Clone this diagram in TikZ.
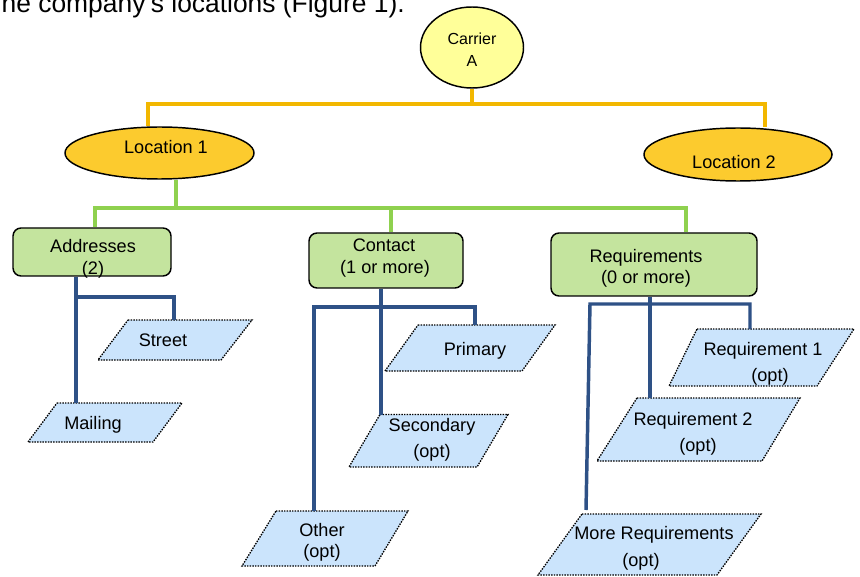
\documentclass[tikz,border=0pt]{standalone}
\usepackage{fontspec}
\setmainfont{Liberation Sans}
\usetikzlibrary{shapes.geometric}
\definecolor{oline}{HTML}{F2B700}
\definecolor{locfill}{HTML}{FCCB2E}
\definecolor{carfill}{HTML}{FFFF99}
\definecolor{gline}{HTML}{8FD14F}
\definecolor{gfill}{HTML}{C4E49E}
\definecolor{bline}{HTML}{2E5186}
\definecolor{pfill}{HTML}{CBE4FC}
\begin{document}
\begin{tikzpicture}[x=0.75pt,y=-0.75pt,
  txt/.style={inner sep=0pt, text height=0.72em, text depth=0pt, anchor=center, yshift=-1.7pt, font=\fontsize{13.6}{16}\selectfont},
  smalltxt/.style={txt, font=\fontsize{12}{14}\selectfont},
  ellbox/.style={ellipse, draw=black, line width=1.1pt, inner sep=0pt},
  greenbox/.style={rectangle, rounded corners=6pt, draw=black, line width=1.1pt, fill=gfill, inner sep=0pt},
  paraf/.style={fill=pfill, draw=black, line width=1pt, dash pattern=on 1.1pt off 0.9pt},
  orangeconn/.style={draw=oline, line width=3pt},
  greenconn/.style={draw=gline, line width=3pt},
  blueconn/.style={draw=bline, line width=2.6pt},
]
\clip (0,0) rectangle (860,577);
\fill[white] (0,0) rectangle (860,577);

% top text
\node[anchor=base east, inner sep=0pt, font=\fontsize{19.8}{22}\selectfont] (intro) at (405,12.5) {he company’s locations (Figure 1).};

% ellipses
\node[ellbox, fill=carfill, minimum width=103*0.75pt, minimum height=81*0.75pt] (carrier) at (472,47.5) {};
\node[smalltxt] (carrierT1) at (472,37) {Carrier};
\node[smalltxt] (carrierT2) at (472,59) {A};

\node[ellbox, fill=locfill, minimum width=189*0.75pt, minimum height=52*0.75pt] (loc1) at (159.5,153) {};
\node[txt] (loc1T) at (166,146) {Location 1};
\node[ellbox, fill=locfill, minimum width=188*0.75pt, minimum height=53*0.75pt] (loc2) at (738,154.5) {};
\node[txt] (loc2T) at (734,161) {Location 2};

% green boxes
\node[greenbox, minimum width=158*0.75pt, minimum height=48*0.75pt] (addr) at (92,252) {};
\node[txt] (addrT1) at (93,245) {Addresses};
\node[txt] (addrT2) at (93,267) {(2)};
\node[greenbox, minimum width=154*0.75pt, minimum height=55*0.75pt] (contact) at (386,260.5) {};
\node[txt] (contactT1) at (384,244) {Contact};
\node[txt] (contactT2) at (385,266) {(1 or more)};
\node[greenbox, minimum width=206*0.75pt, minimum height=63*0.75pt] (req) at (654,264.5) {};
\node[txt] (reqT1) at (646,255) {Requirements};
\node[txt] (reqT2) at (646,276) {(0 or more)};

% parallelograms
\path[paraf] (128,320) -- (252,320) -- (221,360) -- (98,360) -- cycle;
\node[txt] (street) at (163,339) {Street};
\path[paraf] (57,403) -- (182,403) -- (153,442) -- (28,442) -- cycle;
\node[txt] (mail) at (93,422) {Mailing};
\path[paraf] (276,511) -- (408,511) -- (375,566) -- (242,566) -- cycle;
\node[txt] (other1) at (322,529) {Other};
\node[txt] (other2) at (322,550) {(opt)};
\path[paraf] (418,325) -- (555,325) -- (522,371) -- (385,371) -- cycle;
\node[txt] (prim) at (475,348) {Primary};
\path[paraf] (380,414.5) -- (508,414.5) -- (477,467) -- (349,467) -- cycle;
\node[txt] (sec1) at (432,424) {Secondary};
\node[txt] (sec2) at (432,450) {(opt)};
\path[paraf] (697,329) -- (854,329) -- (817,386) -- (669,386) -- cycle;
\node[txt] (r1a) at (763,348) {Requirement 1};
\node[txt] (r1b) at (770,374) {(opt)};
\path[paraf] (637,398) -- (800,398) -- (762,461) -- (597,461) -- cycle;
\node[txt] (r2a) at (693,418) {Requirement 2};
\node[txt] (r2b) at (698,444) {(opt)};
\path[paraf] (582,514) -- (761,514) -- (717,575) -- (538,575) -- cycle;
\node[txt] (moreA) at (654,532) {More Requirements};
\node[txt] (moreB) at (641,559) {(opt)};

% connector ends
\coordinate (streetIn) at (174,320);
\coordinate (mailIn) at (76,403);
\coordinate (otherIn) at (314,511);
\coordinate (primIn) at (475,325);
\coordinate (secIn) at (381,414.5);
\coordinate (r1In) at (750,329);
\coordinate (r2In) at (650,398);
\coordinate (moreIn) at (586,510);

% orange connectors
\draw[orangeconn] (carrier.south) -- (carrier.south |- 0,104);
\draw[orangeconn] (loc1.north -| 148,0) -- (148,104) -- (765,104) -- (loc2.north -| 765,0);

% green connectors
\draw[greenconn] (loc1.south -| 176,0) -- (176,208);
\draw[greenconn] (addr.north -| 95,0) -- (95,208) -- (686,208) -- (req.north -| 686,0);
\draw[greenconn] (391,208) -- (contact.north -| 391,0);

% blue connectors
\draw[blueconn] (addr.south -| 76,0) -- (mailIn);
\draw[blueconn] (76,297) -- (174,297) -- (streetIn);
\draw[blueconn] (contact.south -| 381,0) -- (secIn);
\draw[blueconn] (otherIn) -- (314,307) -- (475,307) -- (primIn);
\draw[blueconn] (req.south -| 650,0) -- (r2In);
\draw[blueconn] (moreIn) -- (590,304) -- (750,304) -- (r1In);
\end{tikzpicture}
\end{document}
